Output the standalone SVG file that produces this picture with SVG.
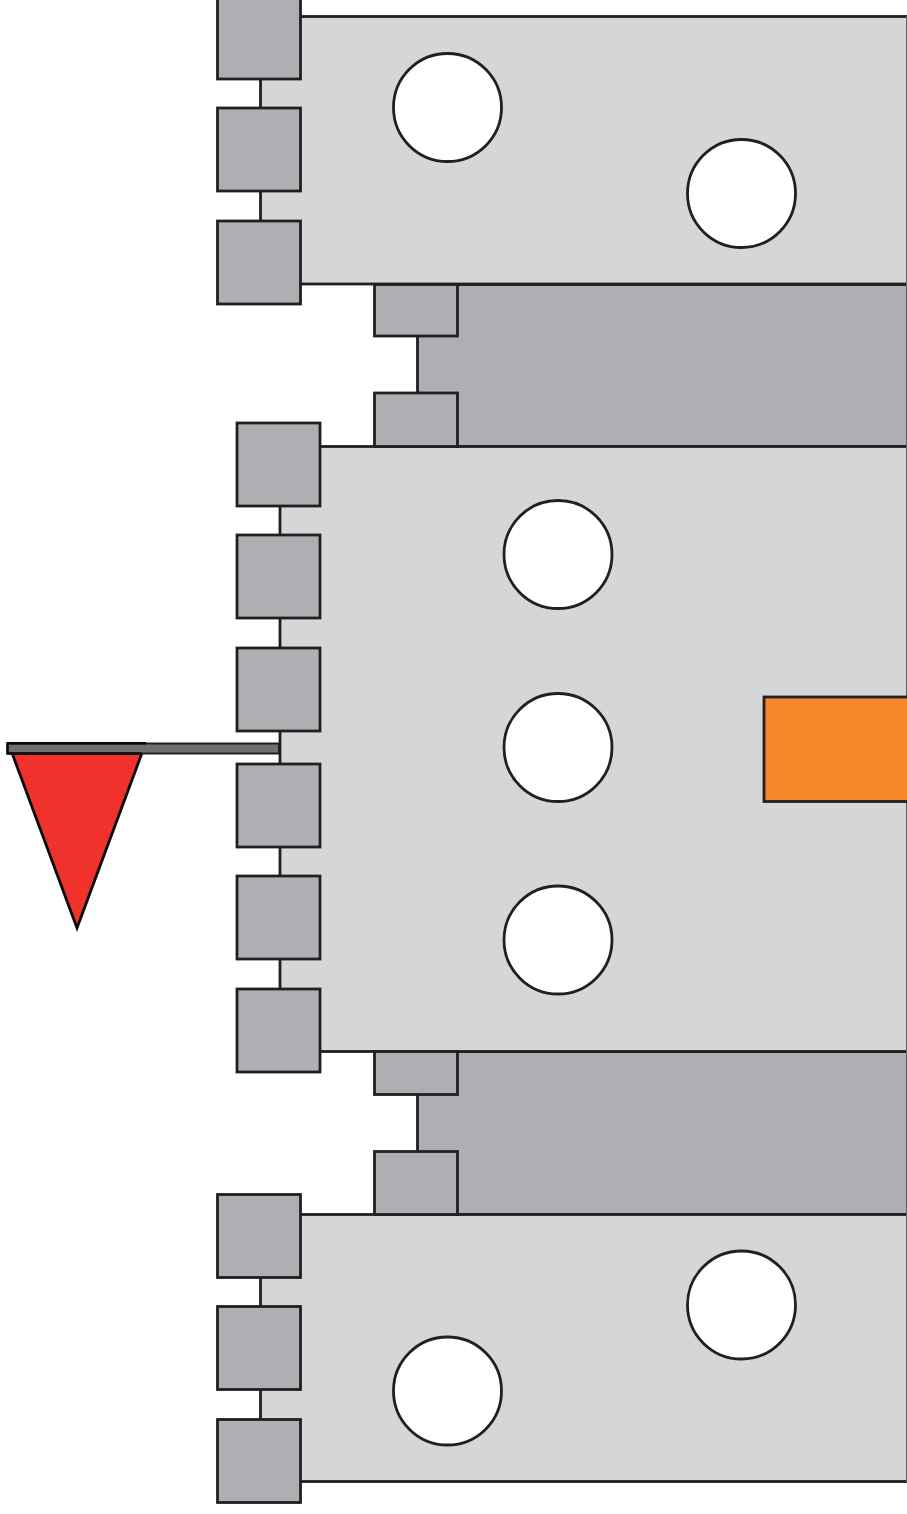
<svg xmlns="http://www.w3.org/2000/svg" width="907" height="1514" viewBox="0 0 907 1514">
<style>
.s{stroke:#231f20;stroke-width:2.8}
.plate{fill:#d5d6d8}
.dark{fill:#aeafb2}
.sq{fill:#aeafb2}
.hole{fill:#fff}
</style>
<rect width="907" height="1514" fill="#fff"/>
<g id="dark-upper"><rect class="dark s" x="417.500" y="284.500" width="500" height="162"/></g>
<g id="dark-lower"><rect class="dark s" x="417.500" y="1051.500" width="500" height="163"/></g>
<g id="plate-top"><rect class="plate s" x="260.500" y="16.500" width="660" height="267.500"/></g>
<g id="plate-middle"><rect class="plate s" x="280" y="446.500" width="640" height="605"/></g>
<g id="plate-bottom"><rect class="plate s" x="260.500" y="1214.500" width="660" height="267"/></g>
<path id="edge" d="M906.500 16V1482" fill="none" stroke="#5f6062" stroke-width="1"/>
<g id="tabs">
<rect class="sq s" x="374.500" y="284.500" width="83" height="51.500"/>
<rect class="sq s" x="374.500" y="393" width="83" height="53.500"/>
<rect class="sq s" x="374.500" y="1051.500" width="83" height="43"/>
<rect class="sq s" x="374.500" y="1151.500" width="83" height="63"/>
</g>
<g id="squares-top">
<rect class="sq s" x="217.500" y="-4" width="83" height="83"/>
<rect class="sq s" x="217.500" y="108" width="83" height="83"/>
<rect class="sq s" x="217.500" y="221" width="83" height="83"/>
</g>
<g id="squares-middle">
<rect class="sq s" x="237" y="423" width="83" height="83"/>
<rect class="sq s" x="237" y="535" width="83" height="83"/>
<rect class="sq s" x="237" y="648" width="83" height="83"/>
<rect class="sq s" x="237" y="764" width="83" height="83"/>
<rect class="sq s" x="237" y="876" width="83" height="83"/>
<rect class="sq s" x="237" y="989" width="83" height="83"/>
</g>
<g id="squares-bottom">
<rect class="sq s" x="217.500" y="1194.500" width="83" height="83"/>
<rect class="sq s" x="217.500" y="1306.500" width="83" height="83"/>
<rect class="sq s" x="217.500" y="1419.500" width="83" height="83"/>
</g>
<g id="holes">
<circle class="hole s" cx="447.500" cy="107.500" r="54"/>
<circle class="hole s" cx="741.500" cy="193.500" r="54"/>
<circle class="hole s" cx="558" cy="554.500" r="54"/>
<circle class="hole s" cx="558" cy="747.500" r="54"/>
<circle class="hole s" cx="558" cy="940" r="54"/>
<circle class="hole s" cx="741.500" cy="1305" r="54"/>
<circle class="hole s" cx="447.500" cy="1391" r="54"/>
</g>
<g id="orange-block"><rect x="764" y="697" width="150" height="104.500" fill="#f6862a" class="s"/></g>
<g id="flag">
<path d="M12 753L142 753L77 928Z" fill="#ef322c" stroke="#0a0a0a" stroke-width="2.800"/>
<rect x="7.500" y="743.500" width="271.500" height="10" fill="#6f6f70" stroke="#231f20" stroke-width="2"/>
<path d="M6.500 743.300H146M7.500 743V754M6.500 753.500H142" fill="none" stroke="#0a0a0a" stroke-width="2.400"/>
</g>
</svg>
